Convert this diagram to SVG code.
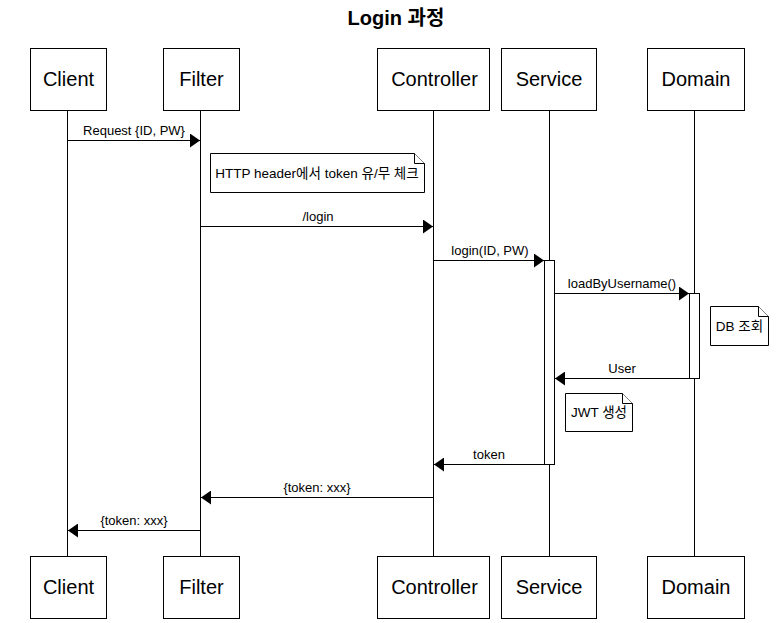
<svg xmlns="http://www.w3.org/2000/svg" width="777" height="623" viewBox="0 0 777 623">
<style>
.box{fill:#fff;stroke:#000;stroke-width:1}
.lt{font-family:"Liberation Sans","Noto Sans CJK KR",sans-serif;font-size:20px;text-anchor:middle;fill:#000}
.ml{font-family:"Liberation Sans","Noto Sans CJK KR",sans-serif;font-size:13px;text-anchor:middle;fill:#000}
.nt{font-family:"Liberation Sans","Noto Sans CJK KR",sans-serif;font-size:13.5px;text-anchor:middle;fill:#000}
.life{stroke:#000;stroke-width:1;fill:none}
.msg{stroke:#000;stroke-width:1;fill:none}
.act{fill:#fff;stroke:#000;stroke-width:1}
.note{fill:#fff;stroke:#000;stroke-width:1}
</style>
<defs>
<marker id="arr" viewBox="0 0 10 14" refX="10" refY="7" markerWidth="10" markerHeight="14" markerUnits="userSpaceOnUse" orient="auto">
<path d="M0,0 L10,7 L0,14 Z" fill="#000"/>
</marker>
</defs>
<rect width="777" height="623" fill="#fff"/>
<text x="396" y="25" font-family="'Liberation Sans','Noto Sans CJK KR',sans-serif" font-size="20" font-weight="bold" text-anchor="middle">Login 과정</text>

<g id="lifelines">
<line class="life" x1="67.5" y1="110" x2="67.5" y2="556"/>
<line class="life" x1="200.5" y1="110" x2="200.5" y2="556"/>
<line class="life" x1="433.5" y1="110" x2="433.5" y2="556"/>
<line class="life" x1="549.5" y1="110" x2="549.5" y2="556"/>
<line class="life" x1="694.5" y1="110" x2="694.5" y2="556"/>
</g>

<g id="client">
<rect class="box" x="30.5" y="48.5" width="76" height="62"/>
<text class="lt" x="68.5" y="86">Client</text>
<rect class="box" x="30.5" y="556.5" width="76" height="62"/>
<text class="lt" x="68.5" y="594">Client</text>
</g>
<g id="filter">
<rect class="box" x="163.5" y="48.5" width="76" height="62"/>
<text class="lt" x="201.5" y="86">Filter</text>
<rect class="box" x="163.5" y="556.5" width="76" height="62"/>
<text class="lt" x="201.5" y="594">Filter</text>
</g>
<g id="controller">
<rect class="box" x="377.5" y="48.5" width="112" height="62"/>
<text class="lt" x="434.5" y="86">Controller</text>
<rect class="box" x="377.5" y="556.5" width="112" height="62"/>
<text class="lt" x="434.5" y="594">Controller</text>
</g>
<g id="service">
<rect class="box" x="501.5" y="48.5" width="95" height="62"/>
<text class="lt" x="549" y="86">Service</text>
<rect class="box" x="501.5" y="556.5" width="95" height="62"/>
<text class="lt" x="549" y="594">Service</text>
</g>
<g id="domain">
<rect class="box" x="647.5" y="48.5" width="97" height="62"/>
<text class="lt" x="696" y="86">Domain</text>
<rect class="box" x="647.5" y="556.5" width="97" height="62"/>
<text class="lt" x="696" y="594">Domain</text>
</g>

<g id="activations">
<rect class="act" x="544.5" y="260.5" width="10" height="204"/>
<rect class="act" x="689.5" y="293.5" width="10" height="85"/>
</g>

<g id="connectors">
<line class="msg" x1="67.5" y1="140.5" x2="200" y2="140.5" marker-end="url(#arr)"/>
<text class="ml" x="134" y="135">Request {ID, PW}</text>
<line class="msg" x1="200.5" y1="226.5" x2="433" y2="226.5" marker-end="url(#arr)"/>
<text class="ml" x="318" y="221">/login</text>
<line class="msg" x1="433.5" y1="260.5" x2="544" y2="260.5" marker-end="url(#arr)"/>
<text class="ml" x="490" y="255">login(ID, PW)</text>
<line class="msg" x1="554.5" y1="293.5" x2="689" y2="293.5" marker-end="url(#arr)"/>
<text class="ml" x="622" y="288">loadByUsername()</text>
<line class="msg" x1="689.5" y1="378.5" x2="555" y2="378.5" marker-end="url(#arr)"/>
<text class="ml" x="622" y="373">User</text>
<line class="msg" x1="544.5" y1="464.5" x2="434" y2="464.5" marker-end="url(#arr)"/>
<text class="ml" x="489" y="459">token</text>
<line class="msg" x1="433.5" y1="497.5" x2="201" y2="497.5" marker-end="url(#arr)"/>
<text class="ml" x="317" y="492">{token: xxx}</text>
<line class="msg" x1="200.5" y1="530.5" x2="68" y2="530.5" marker-end="url(#arr)"/>
<text class="ml" x="134" y="525">{token: xxx}</text>
</g>

<g id="note-http">
<path class="note" d="M210.5,153.5 H414.5 L424.5,163.5 V192.5 H210.5 Z"/>
<path class="note" d="M414.5,153.5 V163.5 H424.5" fill="none"/>
<text class="nt" x="317" y="178">HTTP header에서 token 유/무 체크</text>
</g>
<g id="note-db">
<path class="note" d="M710.5,306.5 H758.5 L768.5,316.5 V345.5 H710.5 Z"/>
<path class="note" d="M758.5,306.5 V316.5 H768.5" fill="none"/>
<text class="nt" x="739.5" y="331">DB 조회</text>
</g>
<g id="note-jwt">
<path class="note" d="M565.5,393.5 H622.5 L632.5,403.5 V431.5 H565.5 Z"/>
<path class="note" d="M622.5,393.5 V403.5 H632.5" fill="none"/>
<text class="nt" x="599" y="417">JWT 생성</text>
</g>
</svg>
